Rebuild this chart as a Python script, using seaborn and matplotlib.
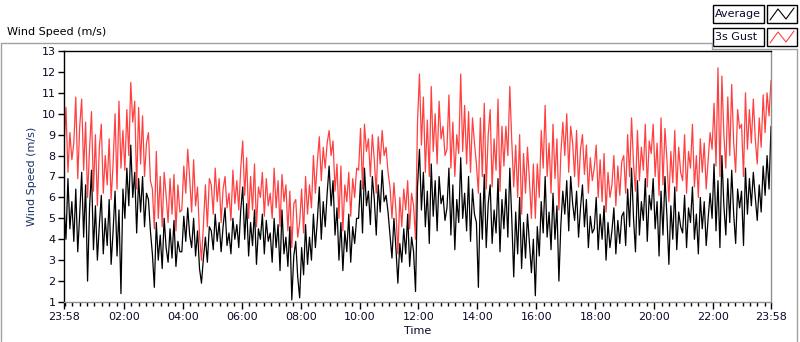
import numpy as np
import pandas as pd
import matplotlib
matplotlib.use("Agg")
import matplotlib.pyplot as plt
import matplotlib.dates as mdates
from matplotlib.lines import Line2D
from matplotlib.patches import Rectangle
import seaborn as sns

# samples every 4 minutes, starting at 23:58
start_time = "2015-06-01 23:58"
sample_step = "4min"

# one row per hour
avg_speed = [
    5.6, 4.0, 6.9, 4.5, 5.8, 3.9, 6.4, 3.4, 5.2, 7.2, 4.1, 6.6, 2.0, 5.5, 7.3,
    3.5, 5.6, 3.0, 4.7, 6.1, 3.3, 5.0, 3.7, 5.9, 2.8, 4.4, 6.3, 3.2, 5.4, 1.4,
    6.4, 5.0, 7.4, 5.6, 8.5, 6.0, 7.2, 4.3, 6.9, 5.3, 7.0, 4.6, 6.2, 5.9, 4.4,
    3.3, 1.7, 4.8, 3.0, 4.2, 2.6, 5.0, 3.6, 2.9, 4.5, 3.1, 4.9, 2.7, 3.9, 3.4,
    3.4, 5.1, 3.9, 5.5, 4.2, 3.6, 5.0, 3.2, 4.4, 2.6, 1.9, 3.1, 4.1, 2.9, 4.6,
    4.4, 3.5, 5.2, 3.9, 4.8, 3.4, 4.6, 5.5, 3.7, 4.3, 3.3, 5.0, 4.0, 4.7, 3.6,
    5.4, 6.5, 4.0, 5.7, 3.2, 4.8, 3.7, 5.4, 2.8, 4.5, 4.0, 5.2, 3.3, 4.9, 3.9,
    4.3, 2.9, 5.0, 3.6, 4.7, 2.5, 5.4, 3.3, 4.1, 2.7, 4.6, 1.1, 3.2, 3.9, 2.2,
    1.2, 3.6, 2.3, 4.7, 2.8, 4.1, 3.0, 5.2, 3.6, 4.9, 6.5, 4.0, 5.8, 4.6, 6.2,
    7.5, 5.6, 6.8, 4.2, 5.5, 3.0, 4.8, 2.5, 4.4, 3.4, 5.2, 2.9, 4.6, 3.8, 5.0,
    5.0, 6.8, 4.3, 7.4, 5.6, 6.3, 4.7, 7.0, 5.9, 4.2, 6.6, 5.3, 7.3, 5.8, 6.1,
    5.3, 4.2, 3.1, 5.0, 3.6, 1.9, 3.8, 2.9, 4.5, 3.3, 5.2, 2.7, 4.1, 3.4, 1.5,
    6.5, 8.3, 5.4, 7.2, 4.6, 6.3, 3.8, 7.6, 5.1, 6.8, 4.4, 7.0, 5.7, 6.1, 4.9,
    5.5, 7.4, 4.2, 6.6, 3.5, 5.9, 4.8, 7.9, 5.0, 6.2, 4.4, 7.0, 3.9, 6.4, 5.2,
    4.8, 1.7, 6.2, 4.0, 7.1, 3.6, 5.7, 6.6, 3.8, 5.4, 4.3, 6.9, 3.4, 5.9, 4.5,
    6.4, 4.1, 7.4, 5.0, 2.2, 5.3, 3.3, 6.0, 2.6, 4.8, 3.1, 5.2, 3.8, 2.4, 4.0,
    1.3, 4.6, 3.2, 5.8, 4.3, 7.0, 4.1, 5.3, 3.5, 6.2, 4.0, 5.6, 2.0, 4.7, 6.3,
    5.2, 6.8, 4.4, 7.0, 5.7, 4.9, 6.3, 4.1, 5.5, 6.6, 4.6, 5.9, 3.6, 5.1, 4.3,
    4.5, 6.0, 3.5, 5.2, 4.0, 5.6, 3.0, 4.8, 3.6, 4.4, 5.5, 3.3, 4.9, 3.8, 5.1,
    5.3, 3.7, 6.4, 4.6, 7.4, 5.0, 3.4, 6.8, 4.2, 5.8, 4.9, 6.9, 3.9, 6.1, 5.4,
    6.9, 4.5, 5.8, 3.2, 6.3, 4.2, 7.0, 5.1, 2.8, 5.6, 4.0, 6.5, 3.5, 5.3, 4.6,
    4.3, 6.1, 3.6, 5.5, 4.8, 6.5, 4.0, 5.2, 3.3, 6.0, 4.5, 5.8, 3.7, 5.0, 6.2,
    5.0, 7.6, 4.4, 6.8, 3.6, 8.0, 5.6, 4.2, 6.9, 4.8, 7.3, 5.2, 3.8, 6.4, 5.5,
    6.3, 3.7, 7.4, 5.2, 6.9, 5.6, 7.2, 6.0, 4.9, 6.6, 5.3, 7.5, 6.1, 8.0, 6.4, 9.4,
]

gust_speed = [
    8.4, 10.3, 7.2, 9.1, 7.8, 8.6, 10.8, 6.9, 9.4, 10.7, 7.3, 9.6, 6.0, 8.3, 10.1,
    6.3, 9.0, 5.6, 8.4, 9.5, 6.2, 8.0, 6.6, 8.8, 5.9, 7.6, 10.0, 6.4, 10.6, 7.4,
    9.2, 7.3, 10.2, 8.0, 11.5, 9.6, 10.6, 6.4, 10.3, 7.6, 9.9, 7.0, 8.6, 9.1, 6.8,
    6.4, 4.5, 8.2, 5.0, 7.0, 4.6, 7.2, 6.1, 4.8, 6.9, 5.2, 7.1, 4.4, 6.6, 5.3,
    5.4, 7.5, 6.2, 8.3, 6.9, 5.3, 7.8, 5.6, 6.5, 4.2, 3.0, 4.7, 6.6, 4.6, 6.9,
    6.6, 5.2, 7.4, 5.8, 6.9, 4.8, 6.4, 7.0, 5.5, 6.2, 4.9, 7.3, 5.7, 6.8, 5.4,
    7.4, 8.7, 6.1, 7.9, 5.0, 7.0, 5.4, 7.6, 4.6, 6.5, 6.0, 7.2, 5.1, 6.9, 5.6,
    6.2, 5.0, 7.4, 5.5, 6.8, 4.6, 7.1, 5.8, 6.6, 4.4, 6.3, 3.6, 5.7, 5.9, 4.1,
    4.8, 6.4, 4.3, 7.0, 5.2, 6.6, 5.5, 8.0, 6.2, 7.7, 8.9, 6.8, 8.4, 7.4, 8.6,
    9.2, 8.0, 8.7, 6.3, 7.6, 5.0, 7.5, 4.4, 6.6, 5.8, 7.2, 5.1, 6.9, 6.0, 7.4,
    7.3, 9.3, 6.4, 9.5, 8.2, 8.8, 7.0, 9.0, 7.8, 6.2, 8.9, 7.6, 9.2, 8.0, 8.4,
    7.2, 6.5, 5.0, 6.7, 5.4, 3.3, 6.0, 4.6, 6.4, 5.4, 6.8, 4.5, 6.2, 5.6, 4.0,
    9.6, 11.9, 8.5, 10.8, 7.2, 9.7, 7.0, 11.3, 8.2, 10.0, 7.6, 10.6, 8.8, 9.4, 8.0,
    8.3, 10.9, 7.4, 9.6, 7.0, 9.0, 8.1, 11.9, 8.2, 10.4, 7.6, 10.1, 7.2, 9.8, 8.6,
    7.6, 6.2, 9.8, 7.0, 10.5, 6.4, 9.0, 10.2, 6.5, 8.8, 7.3, 10.7, 6.3, 9.4, 7.5,
    9.4, 8.0, 11.3, 8.7, 6.5, 8.5, 6.0, 9.0, 5.2, 8.1, 6.2, 8.4, 6.8, 5.0, 7.6,
    5.0, 7.6, 6.0, 9.2, 7.4, 10.4, 7.0, 8.6, 6.2, 9.5, 6.9, 8.8, 5.4, 8.1, 9.6,
    8.0, 10.0, 7.2, 9.4, 8.6, 7.0, 9.2, 6.5, 8.3, 9.0, 7.1, 8.5, 6.2, 7.9, 6.8,
    7.4, 8.5, 6.0, 7.8, 5.8, 8.1, 5.3, 7.2, 6.0, 6.6, 8.0, 5.6, 7.5, 6.1, 7.7,
    8.0, 6.2, 9.0, 7.0, 9.8, 7.6, 6.3, 9.2, 6.8, 8.4, 7.3, 9.5, 6.5, 8.7, 8.1,
    9.5, 7.0, 8.6, 6.1, 9.8, 6.6, 9.3, 7.8, 5.8, 8.2, 6.7, 9.2, 6.3, 8.4, 7.2,
    6.8, 9.0, 6.2, 8.2, 7.4, 9.5, 6.5, 8.0, 6.0, 8.8, 7.2, 8.6, 6.4, 7.8, 9.1,
    8.3, 10.5, 7.5, 12.2, 7.0, 11.8, 9.0, 7.4, 10.8, 8.0, 11.4, 8.6, 7.2, 10.2, 9.3,
    9.5, 7.0, 11.0, 8.3, 10.2, 8.6, 10.7, 8.8, 7.6, 9.8, 8.4, 10.9, 9.1, 11.0, 9.9, 11.6,
]

series_names = ["Average", "3s Gust"]
series_colors = ["black", "#ff4040"]

W, H = 800, 342


def fx(px):
    return px / W


def fy(py):
    return 1 - py / H


def main():
    sns.set_style("white")
    plt.rcParams["font.family"] = ["DejaVu Sans"]

    assert len(avg_speed) == len(gust_speed)
    times = pd.date_range(start_time, periods=len(avg_speed), freq=sample_step)
    df = pd.DataFrame({"time": times, "avg": avg_speed, "gust": gust_speed})

    fig = plt.figure(figsize=(W / 100, H / 100), dpi=100)
    ax = fig.add_axes([fx(64), fy(302), fx(771) - fx(64), fy(51) - fy(302)])

    sns.lineplot(data=df, x="time", y="gust", ax=ax, color=series_colors[1],
                 lw=0.9, estimator=None)
    sns.lineplot(data=df, x="time", y="avg", ax=ax, color=series_colors[0],
                 lw=0.9, estimator=None)

    t0, t1 = times[0], times[-1]
    ax.set_xlim(t0, t1)
    ax.set_ylim(1, 13)
    ax.set_yticks(range(1, 14))

    majors = [t0] + list(pd.date_range("2015-06-02 02:00", "2015-06-02 22:00", freq="2h")) + [t1]
    ax.set_xticks(majors)
    ax.xaxis.set_major_formatter(mdates.DateFormatter("%H:%M"))
    ax.xaxis.set_minor_locator(mdates.MinuteLocator(byminute=[0, 15, 30, 45]))

    ax.tick_params(axis="both", which="major", direction="out", length=4, width=1,
                   color="black", labelsize=8, pad=2, labelcolor="#0a0a28")
    ax.tick_params(axis="x", which="minor", direction="out", length=3, width=1, color="black")
    ax.tick_params(axis="x", which="major", length=5)
    ax.xaxis.set_ticks_position("bottom")
    ax.yaxis.set_ticks_position("left")

    ax.set_xlabel("Time", fontsize=8, color="#0a0a28", labelpad=3)
    ax.set_ylabel("Wind Speed (m/s)", fontsize=8, color="#1c3466", labelpad=3)

    for side in ["top", "left"]:
        ax.spines[side].set_color("black")
        ax.spines[side].set_linewidth(1)
    for side in ["bottom", "right"]:
        ax.spines[side].set_color("#909090")
        ax.spines[side].set_linewidth(1)

    # outer panel frame
    gray = "#a0a0a0"
    fig.add_artist(Line2D([fx(1), fx(712)], [fy(42.5), fy(42.5)], color=gray, lw=1))
    fig.add_artist(Line2D([fx(712), fx(712)], [fy(42.5), fy(48.5)], color=gray, lw=1))
    fig.add_artist(Line2D([fx(712), fx(797)], [fy(48.5), fy(48.5)], color=gray, lw=1))
    fig.add_artist(Line2D([fx(797), fx(797)], [fy(48.5), fy(341)], color=gray, lw=1))
    fig.add_artist(Line2D([fx(1), fx(1)], [fy(42.5), fy(341)], color=gray, lw=1))

    fig.text(fx(7), fy(32), "Wind Speed (m/s)", fontsize=8, color="black",
             ha="left", va="center")

    # legend panel
    for i, (name, col) in enumerate(zip(series_names, series_colors)):
        top = 5 + i * 23
        fig.add_artist(Rectangle((fx(713), fy(top + 18)), fx(764) - fx(713), fy(top) - fy(top + 18),
                                 fill=False, ec="black", lw=1))
        fig.add_artist(Rectangle((fx(767), fy(top + 18)), fx(797) - fx(767), fy(top) - fy(top + 18),
                                 fill=False, ec="black", lw=1))
        fig.text(fx(715), fy(top + 9), name, fontsize=8, color="#0a0a28",
                 ha="left", va="center")
        fig.add_artist(Line2D([fx(770), fx(778), fx(786), fx(794)],
                              [fy(top + 15), fy(top + 4), fy(top + 14), fy(top + 3)],
                              color=col, lw=0.8))

    fig.savefig("out.png", dpi=100, facecolor="white")


if __name__ == "__main__":
    main()
